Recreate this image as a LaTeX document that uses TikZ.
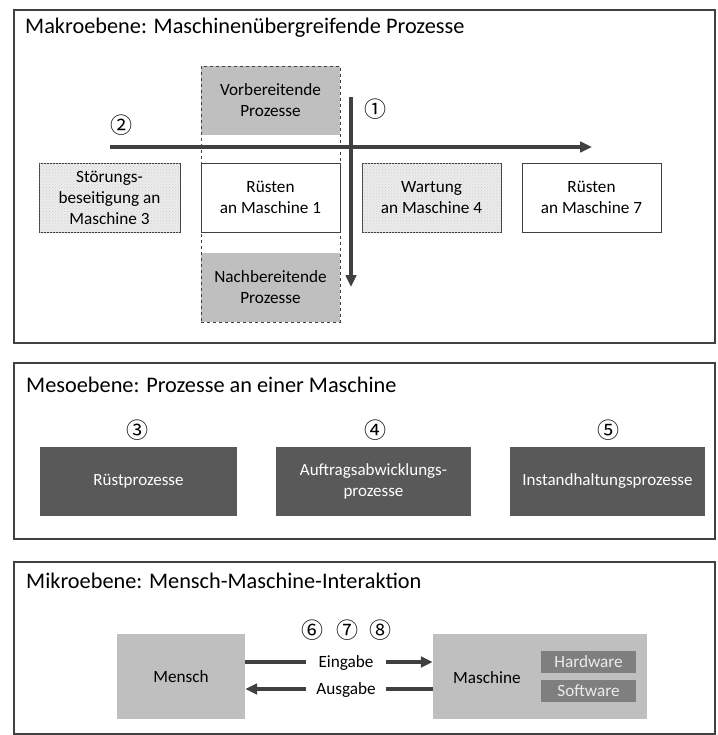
\documentclass[tikz,border=0pt]{standalone}
\usepackage{fontspec}
\setmainfont{Carlito}
\newfontfamily\circfont{Noto Sans CJK JP}
\usetikzlibrary{arrows.meta,patterns}
\definecolor{dgray}{HTML}{404040}
\definecolor{lgray}{HTML}{BFBFBF}
\definecolor{mgray}{HTML}{595959}
\definecolor{hgray}{HTML}{7F7F7F}
\definecolor{tex}{HTML}{ECECEC}
\tikzset{
  panel/.style={draw=dgray, line width=1.1pt},
  ptitle/.style={anchor=west, inner sep=0pt, font=\fontsize{22.3}{25}\selectfont},
  mbox/.style={draw=dgray, line width=0.9pt, fill=white, inner sep=0pt, align=center, font=\fontsize{17.2}{21}\selectfont},
  texbox/.style={mbox, fill=tex, postaction={pattern=crosshatch dots, pattern color=black!18}},
  graybox/.style={fill=lgray, inner sep=0pt, align=center, font=\fontsize{17.2}{21}\selectfont},
  darkbox/.style={fill=mgray, text=white, inner sep=0pt, align=center, font=\fontsize{17}{21}\selectfont},
  hwbox/.style={fill=hgray, text=black!8, inner sep=0pt, align=center, font=\fontsize{17.2}{20}\selectfont},
  num/.style={inner sep=0pt, font=\circfont\fontsize{22}{24}\selectfont},
  arr/.style={draw=dgray, line width=3.3pt, -{Triangle[length=12pt,width=10.5pt]}},
  lbl/.style={fill=white, inner sep=1pt, font=\fontsize{17.2}{21}\selectfont}
}
\begin{document}
\begin{tikzpicture}[x=1pt,y=-1pt]
\useasboundingbox (0,0) rectangle (717,735);
\fill[white] (0,0) rectangle (717,735);
% panels
\draw[panel] (14,10) rectangle (715,343);
\draw[panel] (14,363) rectangle (715,539);
\draw[panel] (14,562) rectangle (715,734);
\node[ptitle] (t1) at (25,28) {Makroebene: Maschinenübergreifende Prozesse};
\node[ptitle] (t2) at (26,385) {Mesoebene: Prozesse an einer Maschine};
\node[ptitle] (t3) at (26,581) {Mikroebene: Mensch-Maschine-Interaktion};

% Makro
\node[graybox, minimum width=139pt, minimum height=69pt] (vor) at (270.5,100.5) {Vorbereitende\\Prozesse};
\node[graybox, minimum width=139pt, minimum height=69pt] (nach) at (270.5,287.5) {Nachbereitende\\Prozesse};
\node[texbox, minimum width=141pt, minimum height=69pt] (stoer) at (109.5,197.5) {Störungs-\\beseitigung an\\Maschine 3};
\node[mbox, minimum width=139pt, minimum height=69pt] (r1) at (270.5,197.5) {Rüsten\\an Maschine 1};
\node[texbox, minimum width=139pt, minimum height=69pt] (wart) at (431.5,197.5) {Wartung\\an Maschine 4};
\node[mbox, minimum width=139pt, minimum height=69pt] (r7) at (591.5,197.5) {Rüsten\\an Maschine 7};
\node[draw=dgray, dashed, line width=0.9pt, inner sep=0pt, minimum width=139pt, minimum height=256pt] (dash) at (270.5,194) {};
\coordinate (hs) at (110,147);
\coordinate (he) at (592,147);
\coordinate (vs) at (351,97);
\coordinate (ve) at (351,287);
\draw[arr] (hs) -- (he);
\draw[arr] (vs) -- (ve);
\node[num] (n1) at (375,109) {①};
\node[num] (n2) at (121,125) {②};

% Meso
\node[num] (n3) at (137,430) {③};
\node[num] (n4) at (375,430) {④};
\node[num] (n5) at (608,430) {⑤};
\node[darkbox, minimum width=197pt, minimum height=69pt] (b3) at (138.5,481.5) {Rüstprozesse};
\node[darkbox, minimum width=195pt, minimum height=69pt] (b4) at (373.5,481.5) {Auftragsabwicklungs-\\prozesse};
\node[darkbox, minimum width=195pt, minimum height=69pt] (b5) at (607.5,481.5) {Instandhaltungsprozesse};

% Mikro
\node[graybox, minimum width=128pt, minimum height=85pt] (mensch) at (181,676.5) {Mensch};
\node[fill=lgray, minimum width=214pt, minimum height=85pt] (masch) at (540,676.5) {};
\node[inner sep=0pt, font=\fontsize{17.2}{21}\selectfont] (maschl) at (487,678) {Maschine};
\node[hwbox, minimum width=95pt, minimum height=22pt] (hw) at (588.5,662) {Hardware};
\node[hwbox, minimum width=95pt, minimum height=22pt] (sw) at (588.5,691) {Software};
\coordinate (ey) at (0,662);
\coordinate (ay) at (0,689);
\draw[arr] (mensch.east |- ey) -- (masch.west |- ey);
\draw[arr] (masch.west |- ay) -- (mensch.east |- ay);
\node[lbl, minimum width=80pt] (ein) at (346,663) {Eingabe};
\node[lbl, minimum width=80pt] (aus) at (346,690) {Ausgabe};
\node[num] (n6) at (312,630) {⑥};
\node[num] (n7) at (347,630) {⑦};
\node[num] (n8) at (380,630) {⑧};
\end{tikzpicture}
\end{document}
